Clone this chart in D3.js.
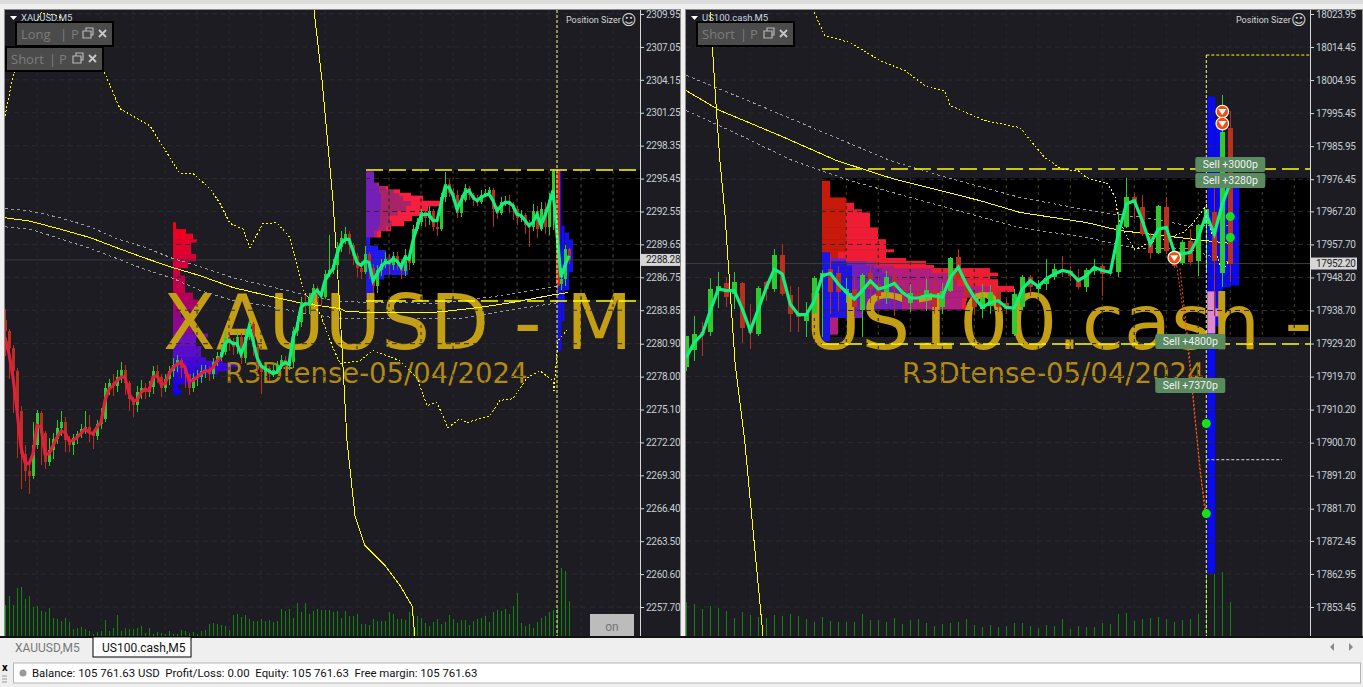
<!DOCTYPE html>
<html><head><meta charset="utf-8">
<script src="https://cdn.jsdelivr.net/npm/d3@7"></script>
<style>html,body{margin:0;padding:0;background:#f0f0f0;overflow:hidden}svg{display:block}text{font-family:Roboto,sans-serif}</style>
</head><body><svg id="c" width="1363" height="687"></svg>
<script>
// ---------- tick labels ----------
const leftTicks=[2309.95,2307.05,2304.15,2301.25,2298.35,2295.45,2292.55,2289.65,2286.75,2283.85,2280.90,2278.00,2275.10,2272.20,2269.30,2266.40,2263.50,2260.60,2257.70];
const rightTicks=[18023.95,18014.45,18004.95,17995.45,17985.95,17976.45,17967.20,17957.70,17948.20,17938.70,17929.20,17919.70,17910.20,17900.70,17891.20,17881.70,17872.45,17862.95,17853.45];
const lastLeft=2288.28,lastRight=17952.20;
// ---------- XAUUSD candles ----------
const leftClose=[2282.0,2280.5,2278.5,2275.0,2271.2,2269.7,2269.2,2272.0,2274.8,2273.0,2270.5,2271.5,2272.5,2273.5,2274.0,2272.4,2272.0,2272.6,2272.9,2273.4,2273.6,2273.0,2272.8,2273.8,2274.3,2277.0,2277.4,2277.2,2278.0,2278.6,2277.4,2276.0,2275.5,2276.6,2277.0,2276.6,2277.1,2278.5,2278.0,2277.0,2277.8,2278.5,2279.0,2279.5,2278.8,2278.2,2277.0,2277.9,2278.0,2278.5,2278.6,2278.2,2279.3,2279.8,2280.2,2281.4,2281.1,2280.6,2281.5,2279.6,2281.5,2282.6,2280.6,2279.0,2278.4,2278.8,2278.2,2278.6,2279.0,2279.5,2278.9,2279.3,2282.0,2282.8,2284.6,2284.2,2284.9,2285.8,2285.3,2285.0,2287.0,2287.4,2287.8,2289.4,2290.2,2290.6,2289.6,2288.6,2287.6,2287.2,2288.8,2287.6,2286.0,2287.4,2287.9,2288.4,2287.8,2288.6,2288.0,2287.3,2288.7,2288.0,2291.0,2291.6,2292.5,2292.0,2292.6,2291.2,2291.0,2293.8,2295.0,2294.2,2294.0,2292.4,2293.6,2294.6,2294.0,2293.6,2293.4,2294.0,2294.2,2294.4,2292.8,2292.4,2293.4,2293.5,2293.1,2292.8,2292.0,2292.2,2291.4,2291.2,2292.6,2291.0,2292.8,2291.2,2293.6,2296.1,2286.2,2286.6,2289.2,2288.28];
const leftHigh=[2284.0,2282.2,2280.8,2278.8,2275.4,2272.0,2270.2,2274.0,2275.1,2275.0,2273.2,2272.6,2273.0,2274.2,2275.0,2274.4,2272.8,2272.9,2273.2,2273.8,2275.0,2274.6,2273.3,2274.2,2275.2,2277.4,2277.8,2278.2,2278.6,2279.3,2279.0,2277.6,2276.2,2277.2,2277.7,2277.4,2277.6,2278.9,2279.0,2278.2,2278.2,2278.9,2279.6,2279.9,2279.6,2279.0,2278.2,2278.3,2278.6,2279.0,2279.0,2278.9,2279.6,2280.2,2280.7,2282.0,2281.9,2281.4,2282.0,2281.8,2282.2,2283.0,2282.8,2281.0,2279.2,2279.2,2278.9,2279.0,2279.4,2279.9,2279.8,2279.8,2282.4,2283.3,2285.0,2285.2,2285.4,2286.2,2286.0,2285.6,2287.4,2290.5,2288.4,2289.9,2290.8,2291.2,2290.8,2289.8,2288.9,2288.2,2289.5,2289.0,2287.9,2287.8,2288.4,2289.0,2288.8,2289.0,2289.0,2288.4,2289.2,2289.0,2291.4,2292.0,2292.8,2292.8,2293.0,2292.8,2292.0,2294.2,2296.0,2295.4,2294.6,2294.4,2294.0,2295.0,2294.8,2294.2,2294.0,2294.4,2294.5,2294.7,2294.6,2293.0,2293.8,2293.9,2294.0,2293.4,2293.0,2292.7,2292.4,2291.8,2293.2,2293.0,2293.4,2293.4,2294.2,2296.3,2296.1,2287.6,2289.6,2289.3];
const leftLow=[2279.8,2277.8,2274.8,2270.8,2268.1,2268.8,2267.7,2269.0,2271.6,2270.2,2269.9,2270.1,2270.7,2272.1,2272.8,2271.4,2271.4,2271.1,2272.1,2272.6,2272.9,2272.2,2271.6,2272.4,2273.4,2274.0,2276.4,2276.3,2276.6,2277.4,2276.4,2275.0,2274.4,2274.9,2276.0,2276.0,2276.2,2276.5,2277.4,2276.2,2276.6,2277.3,2278.0,2278.4,2277.9,2277.0,2276.4,2276.6,2277.2,2277.4,2277.9,2277.6,2277.8,2278.9,2279.4,2279.9,2280.3,2279.9,2280.0,2279.1,2279.2,2281.2,2279.8,2278.2,2276.5,2277.9,2277.6,2278.0,2278.2,2278.7,2278.2,2278.6,2278.8,2281.6,2282.4,2283.6,2283.6,2284.4,2284.6,2284.2,2284.8,2286.8,2287.0,2287.4,2289.0,2289.7,2288.8,2287.8,2286.8,2286.6,2287.0,2286.6,2285.4,2285.4,2286.9,2287.6,2287.0,2287.4,2287.4,2286.6,2286.9,2287.4,2287.8,2290.8,2291.3,2291.2,2291.4,2290.8,2290.4,2290.8,2293.4,2293.8,2293.4,2292.0,2292.1,2293.4,2293.6,2293.0,2293.0,2293.2,2293.8,2293.9,2291.2,2291.9,2292.2,2293.0,2292.4,2291.8,2291.4,2291.6,2290.6,2289.4,2290.8,2290.2,2290.8,2290.6,2290.5,2290.9,2285.6,2285.6,2286.0,2287.9];
const leftFirstOpen=2283.0;
// thick smoothing line, red through bar 54 and green afterwards
const leftTrend=[2281.46,2280.0,2277.94,2275.0,2271.77,2270.45,2270.3,2271.2,2273.7,2273.55,2271.2,2271.2,2271.9,2272.65,2273.2,2273.1,2272.35,2272.35,2272.65,2273.0,2273.4,2273.1,2272.95,2273.55,2274.0,2275.9,2276.9,2277.2,2277.65,2277.95,2277.95,2276.5,2275.9,2275.9,2276.6,2276.9,2276.75,2277.95,2278.1,2277.35,2277.35,2278.25,2278.8,2279.1,2279.25,2278.8,2277.65,2277.65,2277.95,2278.25,2278.5,2278.5,2278.8,2279.4,2279.7,2280.9,2281.2,2280.9,2280.9,2280.0,2280.9,2282.35,2281.2,2279.7,2278.95,2278.7,2278.5,2278.25,2278.4,2278.95,2279.25,2279.1,2281.45,2282.35,2284.1,2284.4,2284.4,2285.3,2285.6,2285.15,2286.45,2287.05,2287.5,2288.8,2289.7,2290.1,2290.1,2289.1,2288.05,2287.8,2288.2,2288.05,2286.45,2287.05,2287.65,2288.05,2288.05,2288.35,2288.2,2287.65,2288.5,2288.35,2290.0,2291.15,2292.2,2292.3,2292.3,2291.75,2291.75,2293.2,2294.7,2294.7,2293.95,2292.75,2293.5,2294.25,2294.4,2293.8,2293.5,2293.8,2293.95,2294.1,2293.5,2292.6,2293.05,2293.35,2293.35,2293.05,2292.3,2292.2,2291.75,2291.3,2291.6,2292.3,2291.3,2292.2,2293.2,2294.4,2290.55,2286.75,2287.8,2288.65];
const leftTrendRedEnd=54;
const leftVolume=[31,40,31,48,49,37,40,29,30,25,24,28,18,17,15,18,14,7,8,9,7,5,2,4,5,16,5,8,21,5,8,7,7,8,10,3,8,2,4,3,2,5,2,2,6,5,3,4,2,5,6,12,13,12,11,10,6,21,22,19,21,17,15,15,17,15,16,14,15,27,25,27,18,33,24,33,22,25,27,26,26,26,24,25,18,25,20,20,22,12,12,11,17,15,15,15,24,22,17,17,16,24,22,20,18,13,10,14,17,12,14,21,17,13,16,16,11,15,17,18,20,14,24,26,25,27,22,30,43,13,10,12,8,14,18,20,24,26,28,68,65,35];
// ---------- XAUUSD overlays (bar position / price) ----------
const leftMaX=[0,6.25,13.75,21.25,28,34.5,42,48.75,57,65.5,73.75,83.75,85.5,103.75,108.75,118.75,126.25,137,140.75];
const leftMa=[2292.0,2291.7,2291.0,2290.25,2289.35,2288.5,2287.6,2286.9,2285.85,2285.15,2284.5,2284.0,2283.7,2283.65,2283.7,2284.1,2284.5,2285.2,2285.4];
const leftUpperX=[0,6.25,13.75,21.25,28,34.5,42,48.75,57,65.5,73.75,83.75,108.75,121.25,138];
const leftUpper=[2292.8,2292.6,2292,2291.2,2290.15,2289.45,2288.4,2287.7,2286.7,2286,2285.3,2284.6,2284.45,2285,2285.95];
const leftLowerX=[0,6.25,13.75,21.25,28,34.5,42,48.75,57,65.5,73.75,83.75,113,125.5,138];
const leftLower=[2291.2,2291,2290.15,2289.3,2288.4,2287.5,2286.65,2285.6,2284.7,2284.25,2283.65,2283.1,2283.1,2283.8,2284.5];
const leftSteepX=[77,79.25,82,83.75,85.5,87.5,90,95,98.75,101.75,102.5];
const leftSteep=[2311.1,2304.1,2293.5,2283.8,2272.35,2265.75,2263.1,2261.35,2259.6,2257.8,2255.1];
const leftDashX=[0,2,5,9,13.25,20,25,28.75,36.25,41.75,43.75,47,51.25,53.75,56.25,59.5,61.25,64.5,68,71.25,73,74.5,78.75,82,83.75,88.75,92,98.75,103,105.5,108,110.75,113.75,115.5,121.25,123.75,127,130.5,133.75,137,137.25,138.25,140.75];
const leftDash=[2301,2304.5,2307.15,2310.05,2309.8,2307.6,2304.7,2301.6,2300.1,2297,2295.9,2295.9,2294.55,2293.25,2291.5,2291,2289.35,2291.5,2291.55,2290.25,2287.95,2285.6,2283.55,2280.55,2279.15,2279.4,2280.3,2279.4,2277.9,2275.45,2275.7,2273.5,2274.3,2273.95,2274.55,2275.9,2276.05,2277.9,2278.5,2277.65,2276.75,2281.15,2282.2];
// ---------- XAUUSD volume profiles ----------
const profileALevel=[2291.6,2291.0,2290.6,2290.1,2289.85,2288.8,2288.2,2287.6,2286.9,2285.4,2284.8,2284.4,2283.8,2283.2,2281.8,2281.5,2280.7,2279.7,2279.4,2279.2,2278.9,2278.5,2278.2,2277.8,2277.35,2276.9,2276.45];
const profileAVol=[3,13,20,24,18,23,15,7,12,20,25,22,8,20,35,23,28,33,50,66,58,45,30,20,5,8];
const profileBLevel=[2296.1,2295.1,2294.8,2294.5,2294.2,2293.95,2293.5,2293.05,2292.6,2292.2,2291.75,2291.3,2290.85,2290.3,2289.55,2289.15,2288.5,2287.9,2287.0,2286.6,2285.3,2284.85];
const profileBBlue=[0,0,0,0,0,0,0,0,0,0,0,0,0,4,12,20,27,42,18,8,6];
const profileBViolet=[8,11,13,13,15,15,15,15,14,14,14,12,8,0,0,0,0,0,0,0,0];
const profileBMaroon=[0,2,7,15,18,22,30,25,18,10,12,8,3,0,0,0,0,0,0,0,0];
const profileBRed=[0,0,2,6,12,20,30,22,25,22,12,5,4,0,0,0,0,0,0,0,0];
const profileCBar=[138,139.1,139.9,141];
const profileCBarEnd=[139.1,139.9,141,142];
const profileCHigh=[2296.15,2291.3,2290.7,2290.1];
const profileCLow=[2280.3,2282.9,2285.6,2287.2];
// ---------- US100 candles ----------
const rightOpen=[17922.4,17927.2,17932.4,17932.4,17944.4,17946.5,17943.4,17946.5,17933.4,17931.9,17946.8,17945.0,17954.7,17943.1,17937.7,17935.8,17937.9,17948.2,17950.6,17949.6,17943.9,17944.9,17938.9,17949.6,17946.3,17943.9,17948.2,17944.9,17941,17943.9,17942.3,17944.4,17939.8,17944.4,17954.1,17945.8,17942.5,17939.1,17940,17944.2,17941,17932,17939.6,17948.2,17945,17946.3,17948.2,17950.2,17950.2,17948.2,17945.4,17950.2,17951.6,17949.9,17949.7,17962.8,17971.2,17968.6,17960.2,17955.1,17968.6,17955.9,17952.3,17958.8,17952.8,17963.6,17967.1,17949.4,17991.1];
const rightClose=[17931.5,17931.9,17931.9,17944.9,17945.8,17942.7,17946.8,17933.6,17932.1,17945.3,17944.9,17954.6,17943.4,17937.7,17936.9,17937.7,17948,17949.6,17943.9,17943.9,17944.9,17939.6,17949,17944.9,17943,17948.4,17945.3,17943.4,17943.6,17942,17944.6,17939.8,17944.4,17953.8,17947.7,17943,17939.6,17942.5,17943.9,17939.6,17939.1,17943.4,17948.2,17945.4,17946.3,17948,17950.6,17949.7,17948.7,17945.4,17950.4,17951.1,17949.2,17949.4,17963.4,17971.2,17969.5,17960.7,17955.1,17968.8,17955.7,17951.6,17958.5,17952.6,17963.4,17967.9,17952.8,17989.9,17952.2];
const rightHigh=[17931.5,17937.2,17935.3,17948,17949.9,17948.2,17949.8,17946.8,17940.5,17945.8,17947.3,17956.3,17957.8,17945.8,17945.5,17941.2,17948.7,17950.3,17955,17951.5,17948,17948.2,17949.6,17951.5,17949,17950,17950,17947.3,17946.3,17947,17947.7,17947.7,17946.5,17954,17956.4,17948,17943.9,17946.3,17946,17945.5,17942,17945,17949,17948.9,17947.6,17953.6,17952.1,17954.5,17951.5,17950.7,17950.9,17953.4,17952.1,17951,17966.9,17976.9,17972.2,17972,17961,17969,17971.2,17957,17959,17962.1,17963.6,17968,17976,18000.7,17996.1];
const rightLow=[17921.4,17924.3,17925.7,17931.4,17939.4,17939.6,17939.1,17929.3,17927.6,17931.4,17941.5,17944.1,17942.9,17932.4,17932.4,17931,17937.7,17931,17937.7,17938.6,17941,17936.8,17931,17941,17939.6,17940.5,17937,17940.5,17938.2,17940,17938.6,17937.7,17937.7,17944,17946.5,17941.5,17937.3,17936.4,17937.7,17938.2,17937.7,17931.4,17938.8,17943,17943,17944.7,17947.5,17948.2,17947.3,17945,17944.1,17949,17943,17948.7,17948.4,17962.5,17965,17960.2,17953.4,17955,17955,17951,17951.8,17951.8,17948.7,17950,17937,17945.6,17946.8];
const rightTrend=[17925.2,17929.5,17931.9,17938.6,17944.9,17944.4,17944.4,17939.1,17932.9,17939.1,17945.3,17950.6,17949.2,17940.5,17937.5,17937.5,17941.5,17948.7,17949.4,17946.3,17943.9,17942,17944.4,17947.2,17944.9,17945.5,17946.5,17943.9,17942.3,17942.3,17942.9,17942.9,17942.5,17948.2,17951.1,17946.3,17942.5,17939.6,17941,17941.5,17939.6,17939.4,17944.9,17947.3,17945.6,17947.8,17949.2,17950.2,17949.7,17947.3,17948.7,17951.1,17950.2,17949.7,17960.7,17969.3,17970.3,17964.5,17957.8,17962.1,17962.6,17955.4,17955,17955.4,17959.7,17966.4,17960.7,17969.3,17975.5];
const rightVolume=[34,32,27,30,28,25,18,24,21,19,18,21,20,22,20,17,14,19,15,14,14,14,22,16,16,14,18,12,16,17,13,10,12,13,14,17,11,9,11,9,10,13,13,10,8,11,10,17,7,10,9,9,13,12,22,23,15,17,18,19,17,14,16,17,22,62,62,64,34];
// ---------- US100 overlays ----------
const rightMaX=[0,4.2,11.7,18.8,25.8,36.7,41.7,50,54.2,62.6,68];
const rightMa=[18001.9,17996.2,17989,17981.8,17976.6,17970.3,17966.9,17964,17961.7,17959.4,17958];
const rightUpperX=[0,9.2,25.5,32.6,41.7,51.7,58.3,62.6,68];
const rightUpper=[18006.3,17997.6,17981.8,17976.9,17971.2,17966.9,17965.1,17963.1,17963.1];
const rightLowerX=[0,5.5,13.3,20.5,41.7,50,56.3,62.6,68];
const rightLower=[17996.2,17990.4,17981.8,17976,17962.5,17959.7,17956.5,17956.5,17952.5];
const rightSteepX=[3,3.6,4.2,4.8,5.5,6.1,7.3,8.7,9.6];
const rightSteep=[18024.4,18001.9,17981.8,17967.4,17943.6,17923.5,17901.3,17866.8,17845];
const rightDashX=[16,17.3,20.5,24.2,27.3,29.8,32.3,33,37.3,41.7,44.8,47,49,50,52.7,53.6,54,55.1,56.1,57.7,60.4,62.1,63.3,65,66.1,67,67.7];
const rightDash=[18024.4,18017.8,18015.7,18010.6,18007.7,18003.4,18001.9,17997.6,17993.3,17991.3,17982.7,17979.2,17978.9,17976.9,17975.2,17971.2,17965.4,17959.7,17956.2,17958,17959.7,17961.1,17963.7,17968.9,17955.9,17949.6,17952.5];
const tradeAX=[61.3,62.1,62.6,63.6,64.8];
const tradeA=[17951.6,17938.7,17930.1,17907,17881.2];
const tradeBX=[61.7,62.7,63.2,64.2,65];
const tradeB=[17950.8,17930,17918.6,17892.7,17880.3];
// ---------- US100 volume profiles ----------
const profileRLevel=[17976,17971.2,17969.7,17967.8,17966.9,17962.6,17959.2,17956.3,17955.6,17953.8,17953,17951.8,17950.9,17949.6,17948.7,17947.7,17945.8,17944.2,17942.5,17939.1,17936.7,17931.9,17930];
const profileRBlue=[0,0,0,0,0,0,0,0,8,8,24,30,30,30,30,30,30,30,30,30,8,8];
const profileRViolet=[0,0,0,0,0,0,0,0,0,16,20,22,30,36,40,45,50,50,50,10,0,0];
const profileRMagenta=[0,0,0,0,0,0,0,0,0,0,10,20,50,60,55,60,90,80,60,0,8,0];
const profileRDark=[8,24,24,24,24,24,24,24,8,0,0,0,0,0,0,0,0,0,0,0,0,0];
const profileRRed=[0,0,8,16,24,32,40,48,48,60,50,40,58,50,43,41,22,16,4,0,0,0];
const stackBar=[65,66,67,68];
const stackHigh=[18000.2,17992.4,17974,17974];
const stackLow=[17863.1,17934.1,17945.3,17945.9];
const pinkBar=[65,66];
const pinkHigh=[17944.2,17939.3];
const pinkLow=[17932.1,17937];
// ---------- markers ----------
const sellBar=[61,67,67];
const sellPrice=[17953.9,17995.9,17992.45];
const dotBar=[68,68,65,65];
const dotPrice=[17965.7,17959.7,17906.2,17880.3];
const tagText=["Sell +3000p","Sell +3280p","Sell +4800p","Sell +7370p"];
const tagBar=[68,68,63,63];
const tagPrice=[17980.65,17976.05,17929.8,17917.1];
// ---------- panel definitions ----------
const svg=d3.select("#c");
const frame=[{x:4.5,w:676},{x:685.5,w:677}];
svg.append("rect").attr("width",1363).attr("height",687).attr("fill","#f0f0f0");
svg.append("rect").attr("width",1363).attr("height",4).attr("fill","#dcdcdc");
svg.selectAll("rect.pn").data(frame).join("rect").attr("class","pn").attr("x",d=>d.x).attr("y",9.5).attr("width",d=>d.w).attr("height",627).attr("fill","#1c1c22").attr("stroke","#8e8e8e");

function stack(g,x,y,bar,levels,segs){
  const totals=levels.slice(0,-1).map(()=>0);
  segs.forEach(([vals,color])=>{
    g.append("g").selectAll("rect").data(vals).join("rect").attr("x",(d,i)=>x(bar)+totals[i]).attr("width",d=>d).attr("y",(d,i)=>y(levels[i])).attr("height",(d,i)=>y(levels[i+1])-y(levels[i])+.5).attr("fill",color).each((d,i)=>{totals[i]+=d;});
  });
}

function panel(cfg){
  const x=d3.scaleLinear().domain([0,1]).range([cfg.x0,cfg.x0+cfg.step]);
  const y=d3.scaleLinear().domain([cfg.ticks[0],cfg.ticks[18]]).range([14,607]);
  const id="clip"+cfg.name;
  svg.append("clipPath").attr("id",id).append("rect").attr("x",cfg.left).attr("y",10).attr("width",cfg.right-cfg.left).attr("height",626);
  const g=svg.append("g").attr("clip-path",`url(#${id})`);
  const vol=d3.scaleLinear().domain([0,100]).range([636,536]);
  // black range box
  g.append("rect").attr("x",x(cfg.boxBar)).attr("y",y(cfg.boxHigh)).attr("width",cfg.right-x(cfg.boxBar)).attr("height",y(cfg.boxLow)-y(cfg.boxHigh)).attr("fill","#000");
  cfg.profiles(g,x,y);
  // watermark
  g.append("text").attr("x",cfg.wmX).attr("y",349).attr("font-size",77).style("font-family","'DejaVu Sans'").attr("fill","#c49f13").text(cfg.wm);
  g.append("text").attr("x",cfg.subX).attr("y",383).attr("font-size",27.5).style("font-family","'DejaVu Sans'").attr("fill","#b08a12").text("R3Dtense-05/04/2024");
  // grid
  g.append("g").selectAll("line").data(cfg.ticks).join("line").attr("x1",cfg.left).attr("x2",cfg.right).attr("y1",d=>y(d)).attr("y2",d=>y(d)).attr("stroke","#2b2b2f").attr("stroke-dasharray","5,4");
  g.append("g").selectAll("line").data(d3.range(cfg.gridFrom,cfg.gridTo,cfg.gridStep)).join("line").attr("x1",d=>x(d)).attr("x2",d=>x(d)).attr("y1",10).attr("y2",636).attr("stroke","#26262b").attr("stroke-dasharray","3,4");
  g.append("g").selectAll("line").data(d3.range(cfg.gridFrom,cfg.gridTo,cfg.gridStep).filter(d=>x(d)>x(cfg.boxBar))).join("line").attr("x1",d=>x(d)).attr("x2",d=>x(d)).attr("y1",y(cfg.boxHigh)).attr("y2",y(cfg.boxLow)).attr("stroke","#3d3d12").attr("stroke-dasharray","3,4");
  // last price line
  g.append("line").attr("x1",cfg.left).attr("x2",cfg.right).attr("y1",y(cfg.last)).attr("y2",y(cfg.last)).attr("stroke","#3c3c3c");
  // volumes
  g.append("g").selectAll("line").data(cfg.volume).join("line").attr("x1",(d,i)=>x(i)).attr("x2",(d,i)=>x(i)).attr("y1",636).attr("y2",d=>vol(d)).attr("stroke","#0f860f").attr("stroke-width",1).attr("shape-rendering","crispEdges");
  // envelope lines
  const path=(xs,ys,color,w,dash)=>{
    const l=d3.line().x((d,i)=>x(xs[i])).y(d=>y(d));
    g.append("path").attr("d",l(ys)).attr("fill","none").attr("stroke",color).attr("stroke-width",w).attr("stroke-dasharray",dash||null).attr("shape-rendering","crispEdges");
  };
  path(cfg.upperX,cfg.upper,"#9a9a9a",1,"3,3");
  path(cfg.lowerX,cfg.lower,"#9a9a9a",1,"3,3");
  path(cfg.maX,cfg.ma,"#ffff00",1);
  path(cfg.steepX,cfg.steep,"#ffff00",1);
  path(cfg.dashX,cfg.dash,"#ffff00",1,"2,2");
  // candles
  const c=g.append("g").attr("shape-rendering","crispEdges");
  c.selectAll("line").data(cfg.close).join("line").attr("x1",(d,i)=>x(i)).attr("x2",(d,i)=>x(i)).attr("y1",(d,i)=>y(cfg.high[i])).attr("y2",(d,i)=>y(cfg.low[i])).attr("stroke",(d,i)=>d>=cfg.open[i]?"#2ecb2e":"#b8301e");
  c.selectAll("rect").data(cfg.close).join("rect").attr("x",(d,i)=>x(i)-cfg.body/2).attr("width",cfg.body).attr("y",(d,i)=>Math.min(y(d),y(cfg.open[i]))).attr("height",(d,i)=>Math.max(1,Math.abs(y(d)-y(cfg.open[i])))).attr("fill",(d,i)=>d>=cfg.open[i]?"#2ecb2e":"#b8301e");
  // thick trend
  const tl=d3.line().x(d=>x(d.i)).y(d=>y(d.v));
  const tr=cfg.trend.map((v,i)=>({i,v}));
  if(cfg.redEnd>0)g.append("path").attr("d",tl(tr.slice(0,cfg.redEnd+1))).attr("fill","none").attr("stroke","#e0203c").attr("stroke-width",3.2);
  g.append("path").attr("d",tl(tr.slice(cfg.redEnd))).attr("fill","none").attr("stroke","#12f07c").attr("stroke-width",3.2);
  // range dashes
  [cfg.dashHigh,cfg.dashLow].forEach(p=>g.append("line").attr("x1",x(cfg.boxBar)).attr("x2",cfg.right).attr("y1",y(p)).attr("y2",y(p)).attr("stroke","#ffff00").attr("stroke-width",1.4).attr("stroke-dasharray","17,6"));
  g.append("line").attr("x1",x(cfg.vBar)).attr("x2",x(cfg.vBar)).attr("y1",cfg.vTop).attr("y2",636).attr("stroke","#ffff80").attr("stroke-dasharray","3,2");
  cfg.extras&&cfg.extras(g,x,y);
  // axis
  const ax=svg.append("g").attr("transform",`translate(${cfg.right},0)`).call(d3.axisRight(y).tickValues(cfg.ticks).tickFormat(d3.format(".2f")).tickSize(4).tickPadding(2));
  ax.select(".domain").attr("stroke","#d8d8d8").attr("d","M0.5,10V636");
  ax.selectAll(".tick line").attr("stroke","#d8d8d8");
  ax.selectAll("text").attr("fill","#c8ced4").style("font-family","Roboto").style("font-size","10px").style("letter-spacing","-0.3px");
  // last price tag
  svg.append("rect").attr("x",cfg.right+1).attr("y",y(cfg.last)-6).attr("width",cfg.tagW).attr("height",12).attr("fill","#d6d6d6");
  svg.append("text").attr("x",cfg.right+6).attr("y",y(cfg.last)+3.5).attr("font-size",10).attr("fill","#222").style("letter-spacing","-0.3px").text(d3.format(".2f")(cfg.last));
  // captions
  svg.append("path").attr("d",`M${cfg.left+5},16h7l-3.5,4z`).attr("fill","#fff");
  svg.append("text").attr("x",cfg.left+16).attr("y",21).attr("font-size",9.5).attr("fill","#c8d4e0").text(cfg.caption);
  svg.append("text").attr("x",cfg.right-74).attr("y",23).attr("font-size",9).attr("fill","#d8d8d8").text("Position Sizer");
  svg.append("text").attr("x",cfg.right-19).attr("y",24.5).attr("font-size",15).style("font-family","'DejaVu Sans'").attr("fill","#d8d8d8").text("☺");
}

const leftOpen=leftClose.map((d,i)=>i?leftClose[i-1]:leftFirstOpen);
panel({name:"L",x0:5,step:4,left:5,right:640,ticks:leftTicks,last:lastLeft,tagW:39,body:3,
  boxBar:90.25,boxHigh:2296.2,boxLow:2284.8,dashHigh:2296.2,dashLow:2284.66,vBar:138,vTop:10,gridFrom:8,gridTo:160,gridStep:8,
  wm:"XAUUSD - M",wmX:163,subX:225,close:leftClose,open:leftOpen,high:leftHigh,low:leftLow,trend:leftTrend,redEnd:leftTrendRedEnd,volume:leftVolume,
  maX:leftMaX,ma:leftMa,upperX:leftUpperX,upper:leftUpper,lowerX:leftLowerX,lower:leftLower,steepX:leftSteepX,steep:leftSteep,dashX:leftDashX,dash:leftDash,caption:"XAUUSD,M5",
  profiles:(g,x,y)=>{
    const col=d3.scaleLinear().domain([2277,2281.5,2285,2291]).range(["#1200f0","#6a10c0","#b00060","#f00020"]);
    g.append("g").selectAll("rect").data(profileAVol).join("rect").attr("x",x(42)).attr("width",d=>d).attr("y",(d,i)=>y(profileALevel[i])).attr("height",(d,i)=>y(profileALevel[i+1])-y(profileALevel[i])+.5).attr("fill",(d,i)=>col(profileALevel[i]));
    stack(g,x,y,90.25,profileBLevel,[[profileBBlue,"#2018f0"],[profileBViolet,"#7420b8"],[profileBMaroon,"#a82468"],[profileBRed,"#f81e40"]]);
    g.append("g").selectAll("rect").data(profileCBar).join("rect").attr("x",d=>x(d)).attr("width",(d,i)=>x(profileCBarEnd[i])-x(d)).attr("y",(d,i)=>y(profileCHigh[i])).attr("height",(d,i)=>y(profileCLow[i])-y(profileCHigh[i])).attr("fill","#1510e8");
    g.append("rect").attr("x",x(138)).attr("width",3).attr("y",y(2296.15)).attr("height",y(2286)-y(2296.15)).attr("fill","#e02030");
  }});

panel({name:"R",x0:686.3,step:8,left:686,right:1310,ticks:rightTicks,last:lastRight,tagW:46,body:5,
  boxBar:16.96,boxHigh:17976.8,boxLow:17931.1,dashHigh:17979.4,dashLow:17929.05,vBar:65,vTop:55,gridFrom:0,gridTo:80,gridStep:4,
  wm:"US100.cash -",wmX:805,subX:902,close:rightClose,open:rightOpen,high:rightHigh,low:rightLow,trend:rightTrend,redEnd:0,volume:rightVolume,
  maX:rightMaX,ma:rightMa,upperX:rightUpperX,upper:rightUpper,lowerX:rightLowerX,lower:rightLower,steepX:rightSteepX,steep:rightSteep,dashX:rightDashX,dash:rightDash,caption:"US100.cash,M5",
  profiles:(g,x,y)=>{
    stack(g,x,y,16.96,profileRLevel,[[profileRBlue,"#1c14e8"],[profileRDark,"#c81a0a"],[profileRViolet,"#7420b8"],[profileRMagenta,"#b01f80"],[profileRRed,"#ee1c34"]]);
    g.append("g").selectAll("rect").data(stackBar).join("rect").attr("x",d=>x(d)+1).attr("width",8).attr("y",(d,i)=>y(stackHigh[i])).attr("height",(d,i)=>y(stackLow[i])-y(stackHigh[i])).attr("fill","#0a0af0");
    g.append("g").selectAll("rect").data(pinkBar).join("rect").attr("x",d=>x(d)+1).attr("width",8).attr("y",(d,i)=>y(pinkHigh[i])).attr("height",(d,i)=>y(pinkLow[i])-y(pinkHigh[i])).attr("fill","#e088d0");
  },
  extras:(g,x,y)=>{
    g.append("line").attr("x1",x(65)).attr("x2",1310).attr("y1",y(18012.15)).attr("y2",y(18012.15)).attr("stroke","#ffff00").attr("stroke-dasharray","3,2");
    g.append("line").attr("x1",x(65)).attr("x2",1282).attr("y1",y(17895.8)).attr("y2",y(17895.8)).attr("stroke","#d8d8d8").attr("stroke-dasharray","3,2");
    const ol=(xs,ys)=>g.append("path").attr("d",d3.line().x((d,i)=>x(xs[i])).y(d=>y(d))(ys)).attr("fill","none").attr("stroke","#ff5a10").attr("stroke-dasharray","2,2");
    ol(tradeAX,tradeA);ol(tradeBX,tradeB);
    g.append("g").selectAll("circle").data(dotBar).join("circle").attr("cx",d=>x(d)).attr("cy",(d,i)=>y(dotPrice[i])).attr("r",4.5).attr("fill","#19e019");
    const m=g.append("g").selectAll("g").data(sellBar).join("g").attr("transform",(d,i)=>`translate(${x(d)},${y(sellPrice[i])})`);
    m.append("circle").attr("r",6.3).attr("fill","#f05010").attr("stroke","#fff").attr("stroke-width",1.2);
    m.append("path").attr("d","M-4,-2.5h8l-4,6z").attr("fill","#fff");
    const t=g.append("g").selectAll("g").data(tagText).join("g").attr("transform",(d,i)=>`translate(${x(tagBar[i])},${y(tagPrice[i])})`);
    t.append("rect").attr("x",-35).attr("y",-7.5).attr("width",70).attr("height",15).attr("rx",2).attr("fill","#5a8a60");
    t.append("text").attr("text-anchor","middle").attr("y",3.8).attr("font-size",10.5).attr("fill","#f2f2f2").text(d=>d);
  }});

// ---------- floating buttons ----------
const btnLabel=["Long","Short","Short"];const btnX=[16,6,697];const btnY=[22,47,22];
const btn=svg.append("g").selectAll("g").data(btnLabel).join("g").attr("transform",(d,i)=>`translate(${btnX[i]},${btnY[i]})`);
btn.append("rect").attr("width",97).attr("height",24).attr("fill","#4b4b4b").attr("stroke","#000").attr("stroke-width",2);
btn.append("text").attr("x",5).attr("y",17).attr("font-size",13).style("font-family","'Open Sans'").attr("fill","#7c7c7c").text(d=>d);
btn.append("text").attr("x",(d,i)=>i?43:44).attr("y",17).attr("font-size",13).style("font-family","'Open Sans'").attr("fill","#7c7c7c").text("|");
btn.append("text").attr("x",(d,i)=>i?53:55).attr("y",17).attr("font-size",13).style("font-family","'Open Sans'").attr("fill","#7c7c7c").text("P");
btn.append("path").attr("d","M67,9h8v7h-8zM70,9v-3h7v7h-2").attr("fill","none").attr("stroke","#b8b8b8").attr("stroke-width",1.2);
btn.append("path").attr("d","M83,8l7,7M90,8l-7,7").attr("stroke","#c8c8c8").attr("stroke-width",1.8);
// on button
svg.append("rect").attr("x",590).attr("y",614).attr("width",44).attr("height",22).attr("fill","#bcbcbc");
svg.append("text").attr("x",612).attr("y",631).attr("text-anchor","middle").attr("font-size",12).attr("fill","#777").text("on");
// ---------- tabs & status ----------
svg.append("rect").attr("x",0).attr("y",636).attr("width",1363).attr("height",2).attr("fill","#111");
svg.append("rect").attr("x",0).attr("y",638).attr("width",1363).attr("height",49).attr("fill","#efefef");
svg.append("rect").attr("x",93).attr("y",637).attr("width",98).attr("height",20).attr("fill","#fff").attr("stroke","#000");
svg.append("text").attr("x",15).attr("y",651.5).attr("font-size",12).attr("fill","#777").text("XAUUSD,M5");
svg.append("text").attr("x",102).attr("y",651.5).attr("font-size",12).attr("fill","#111").text("US100.cash,M5");
svg.append("path").attr("d","M1334,643l-4,4l4,4zM1349,643l4,4l-4,4z").attr("fill","#8a8a8a");
svg.append("rect").attr("x",13.5).attr("y",663).attr("width",1347).attr("height",20).attr("fill","#fff").attr("stroke","#b5b5b5");
svg.append("text").attr("x",2).attr("y",671).attr("font-size",11).attr("font-weight",700).attr("fill","#000").text("x");
svg.append("path").attr("d","M2,676h5M2,679h5M2,682h5").attr("stroke","#999");
svg.append("circle").attr("cx",23).attr("cy",673).attr("r",3.5).attr("fill","#9a9a9a");
svg.append("text").attr("x",32).attr("y",677).attr("font-size",11.4).attr("fill","#111").style("white-space","pre").text("Balance: 105 761.63 USD  Profit/Loss: 0.00  Equity: 105 761.63  Free margin: 105 761.63");
</script></body></html>
